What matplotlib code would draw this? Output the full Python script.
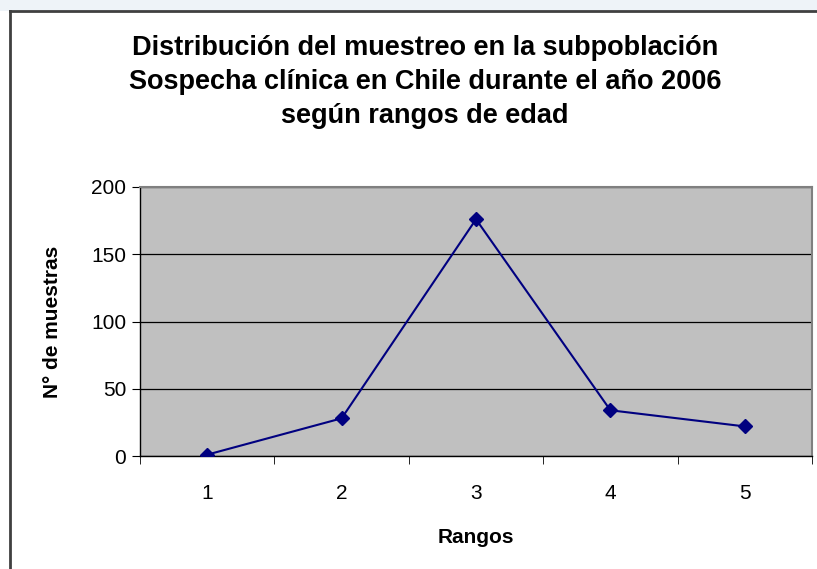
import matplotlib.pyplot as plt
from matplotlib.patches import Rectangle
from matplotlib.lines import Line2D

rangos = [1, 2, 3, 4, 5]
muestras = [1, 28, 176, 34, 22]
y_ticks = [0, 50, 100, 150, 200]

titulo = ("Distribución del muestreo en la subpoblación\n"
          "Sospecha clínica en Chile durante el año 2006\n"
          "según rangos de edad")

plt.rcParams["font.family"] = ["Liberation Sans", "DejaVu Sans"]

fig = plt.figure(figsize=(8.17, 5.69), dpi=100)
fig.patch.set_facecolor("white")

# light strip above the chart frame + frame (cut off at right/bottom)
fig.add_artist(Rectangle((0, 1 - 11 / 569), 1, 11 / 569, transform=fig.transFigure,
                         facecolor="#eef3f8", edgecolor="none"))
fig.add_artist(Line2D([10 / 817, 10 / 817], [0, 1 - 11 / 569], transform=fig.transFigure,
                      color="#404040", linewidth=2))
fig.add_artist(Line2D([10 / 817, 1], [1 - 11 / 569, 1 - 11 / 569], transform=fig.transFigure,
                      color="#404040", linewidth=2))

ax = fig.add_axes([140 / 817, 1 - 456 / 569, 672 / 817, 269 / 569])
ax.set_facecolor("#c0c0c0")

ax.plot(rangos, muestras, color="#000080", linewidth=1.5, marker="D",
        markersize=7, markerfacecolor="#000080", markeredgecolor="#000080", zorder=3)

ax.set_xlim(0.5, 5.5)
ax.set_ylim(0, 200)
ax.set_yticks(y_ticks)
ax.set_yticklabels([str(v) for v in y_ticks], fontsize=15)
ax.grid(axis="y", color="black", linewidth=0.9)
ax.set_axisbelow(True)

# category labels centered, ticks at category boundaries
ax.set_xticks(rangos)
ax.set_xticklabels([str(r) for r in rangos], fontsize=15)
ax.tick_params(axis="x", which="major", length=0, pad=20)
ax.set_xticks([r + 0.5 for r in [0] + rangos], minor=True)
ax.tick_params(axis="x", which="minor", length=6, direction="out", color="black")
ax.tick_params(axis="y", length=6, direction="out", pad=4)

for side in ["left", "bottom"]:
    ax.spines[side].set_color("black")
    ax.spines[side].set_linewidth(1)
for side in ["top", "right"]:
    ax.spines[side].set_color("#808080")
    ax.spines[side].set_linewidth(1.5)

ax.set_xlabel("Rangos", fontsize=15, fontweight="bold", labelpad=18)
ax.set_ylabel("N° de muestras", fontsize=15, fontweight="bold", labelpad=21)

fig.text(425 / 817, 1 - 82 / 569, titulo, ha="center", va="center",
         fontsize=19.5, fontweight="bold", linespacing=1.42)

plt.savefig("out.png", dpi=100, facecolor="white")
plt.close()
